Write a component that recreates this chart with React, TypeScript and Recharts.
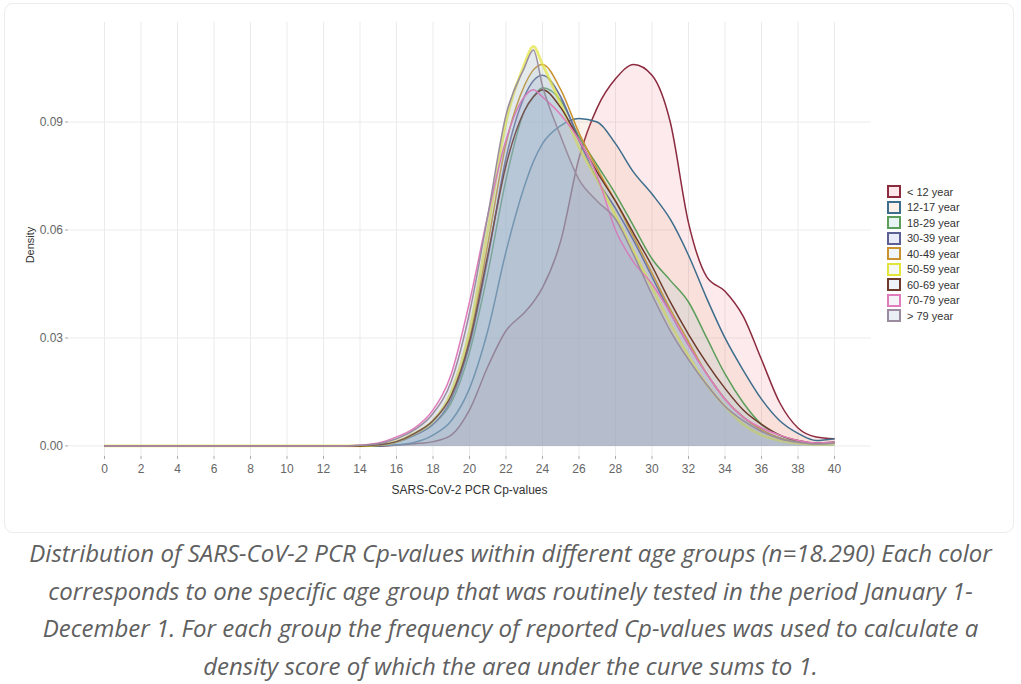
import { AreaChart, Area, XAxis, YAxis, CartesianGrid } from 'recharts';

// Cp-value positions (x) and the density of every age group at that Cp
const cpValues = [
  0, 1, 2, 3, 4, 5, 6, 7, 8, 9, 10, 11, 12, 13, 14, 15, 16, 17, 18, 19, 20,
  21, 22, 23, 23.5, 24, 25, 26, 27, 28, 29, 30, 31, 32, 33, 34, 35, 36, 37, 38, 39, 40,
];

const under12 = [
  0, 0, 0, 0, 0, 0, 0, 0, 0, 0, 0, 0, 0, 0, 0, 0,
  0.0002, 0.0006, 0.0012, 0.003, 0.01, 0.022, 0.032, 0.037, 0.04, 0.044, 0.057, 0.08, 0.094, 0.102,
  0.106, 0.103, 0.09, 0.062, 0.047, 0.043, 0.036, 0.024, 0.012, 0.005, 0.0025, 0.002,
];
const age12to17 = [
  0, 0, 0, 0, 0, 0, 0, 0, 0, 0, 0, 0, 0, 0, 0, 0,
  0.0003, 0.001, 0.003, 0.007, 0.016, 0.032, 0.054, 0.072, 0.079, 0.084, 0.089, 0.091, 0.09, 0.084,
  0.076, 0.07, 0.063, 0.053, 0.041, 0.03, 0.021, 0.013, 0.007, 0.0035, 0.0015, 0.002,
];
const age18to29 = [
  0, 0, 0, 0, 0, 0, 0, 0, 0, 0, 0, 0, 0, 0, 0,
  0.0002, 0.001, 0.003, 0.006, 0.012, 0.026, 0.048, 0.074, 0.093, 0.097, 0.0995, 0.096, 0.086, 0.078,
  0.07, 0.061, 0.052, 0.046, 0.04, 0.03, 0.02, 0.012, 0.006, 0.003, 0.0012, 0.0006, 0.0008,
];
const age30to39 = [
  0, 0, 0, 0, 0, 0, 0, 0, 0, 0, 0, 0, 0, 0, 0,
  0.0002, 0.001, 0.003, 0.006, 0.013, 0.028, 0.052, 0.08, 0.097, 0.1015, 0.103, 0.097, 0.085, 0.074,
  0.066, 0.057, 0.047, 0.037, 0.028, 0.02, 0.013, 0.008, 0.0045, 0.0022, 0.001, 0.0005, 0.001,
];
const age40to49 = [
  0, 0, 0, 0, 0, 0, 0, 0, 0, 0, 0, 0, 0, 0, 0,
  0.0003, 0.0012, 0.0035, 0.007, 0.014, 0.03, 0.056, 0.084, 0.1, 0.1045, 0.106, 0.099, 0.087, 0.077,
  0.068, 0.058, 0.048, 0.038, 0.029, 0.02, 0.013, 0.008, 0.0045, 0.0022, 0.001, 0.0005, 0.0008,
];
const age50to59 = [
  0, 0, 0, 0, 0, 0, 0, 0, 0, 0, 0, 0, 0, 0, 0,
  0.0003, 0.0012, 0.0035, 0.007, 0.015, 0.032, 0.06, 0.09, 0.106, 0.111, 0.106, 0.095, 0.083, 0.074,
  0.064, 0.054, 0.044, 0.034, 0.025, 0.017, 0.011, 0.006, 0.003, 0.0015, 0.0007, 0.0004, 0.0005,
];
const age60to69 = [
  0, 0, 0, 0, 0, 0, 0, 0, 0, 0, 0, 0, 0, 0, 0,
  0.0003, 0.0012, 0.0035, 0.007, 0.014, 0.029, 0.053, 0.078, 0.093, 0.097, 0.099, 0.094, 0.085, 0.076,
  0.068, 0.059, 0.05, 0.04, 0.031, 0.023, 0.016, 0.01, 0.006, 0.003, 0.0015, 0.0008, 0.001,
];
const age70to79 = [
  0, 0, 0, 0, 0, 0, 0, 0, 0, 0, 0, 0, 0, 0,
  0.0002, 0.0008, 0.0025, 0.005, 0.01, 0.02, 0.04, 0.064, 0.085, 0.097, 0.099, 0.097, 0.092, 0.085,
  0.075, 0.06, 0.051, 0.045, 0.037, 0.028, 0.02, 0.013, 0.008, 0.005, 0.003, 0.0015, 0.0008, 0.001,
];
const over79 = [
  0, 0, 0, 0, 0, 0, 0, 0, 0, 0, 0, 0, 0, 0,
  0.0002, 0.0006, 0.002, 0.0045, 0.009, 0.018, 0.037, 0.064, 0.092, 0.105, 0.11, 0.1, 0.086, 0.074,
  0.068, 0.063, 0.053, 0.042, 0.032, 0.024, 0.017, 0.011, 0.007, 0.004, 0.002, 0.001, 0.0005, 0.0008,
];

const ageGroups = [
  '< 12 year', '12-17 year', '18-29 year', '30-39 year', '40-49 year',
  '50-59 year', '60-69 year', '70-79 year', '> 79 year',
];
const groupSeries = [
  under12, age12to17, age18to29, age30to39, age40to49,
  age50to59, age60to69, age70to79, over79,
];

const xTicks = [0, 2, 4, 6, 8, 10, 12, 14, 16, 18, 20, 22, 24, 26, 28, 30, 32, 34, 36, 38, 40];
const yTicks = [0, 0.03, 0.06, 0.09];
const xDomain = [-2, 42];
const yDomain = [-0.0028, 0.1178];

const strokeColors = [
  '#8c2a3e', '#3d6d8c', '#5a9e5a', '#5b5f94', '#c9922e',
  '#e2e43a', '#6e3a2c', '#e07cbc', '#9a8c9e',
];
const fillColors = [
  '#f06878', '#eba578', '#6ab8b8', '#7882d2', '#96bed2',
  '#c3d7b4', '#8cb4c8', '#b4b4d2', '#7896be',
];

const data = cpValues.map((cp, i) => {
  const row: Record<string, number> = { cp };
  groupSeries.forEach((s, g) => {
    row['g' + g] = s[i];
  });
  return row;
});

const axisFont = '"Liberation Sans", Arial, sans-serif';

// major grid only, at the tick values (drawn under the areas)
const gridX = ({ offset }: any) =>
  xTicks.map((t) => offset.left + ((t - xDomain[0]) / (xDomain[1] - xDomain[0])) * offset.width);
const gridY = ({ offset }: any) =>
  yTicks.map((t) => offset.top + ((yDomain[1] - t) / (yDomain[1] - yDomain[0])) * offset.height);

function AgeLegend() {
  return (
    <div style={{ position: 'absolute', left: 887, top: 184, fontFamily: axisFont, fontSize: 11, color: '#333' }}>
      {ageGroups.map((name, g) => (
        <div key={name} style={{ display: 'flex', alignItems: 'center', height: 15.5 }}>
          <div
            style={{
              width: 14,
              height: 13,
              boxSizing: 'border-box',
              border: `2px solid ${strokeColors[g]}`,
              background: fillColors[g] + '28',
              marginRight: 6,
            }}
          />
          <span>{name}</span>
        </div>
      ))}
    </div>
  );
}

export default function App() {
  return (
    <div style={{ position: 'absolute', left: 0, top: 0, width: 1021, height: 684, background: '#fff', overflow: 'hidden' }}>
      <div
        style={{
          position: 'absolute',
          left: 4,
          top: 3,
          width: 1010,
          height: 530,
          boxSizing: 'border-box',
          border: '1px solid #ececec',
          borderRadius: 9,
        }}
      />
      <div style={{ position: 'absolute', left: 0, top: 0 }}>
        <AreaChart width={1021} height={540} data={data} margin={{ top: 22, right: 150, bottom: 44, left: 38 }}>
          <CartesianGrid
            stroke="#ebebeb"
            strokeWidth={1}
            fill="none"
            verticalCoordinatesGenerator={gridX}
            horizontalCoordinatesGenerator={gridY}
          />
          <XAxis
            dataKey="cp"
            type="number"
            domain={xDomain}
            ticks={xTicks}
            interval={0}
            allowDataOverflow
            height={40}
            axisLine={false}
            tickSize={3}
            tickMargin={5}
            tickLine={{ stroke: '#aaa' }}
            tick={{ fill: '#666', fontSize: 12, fontFamily: axisFont }}
            label={{
              value: 'SARS-CoV-2 PCR Cp-values',
              position: 'insideBottom',
              offset: 2,
              fill: '#333',
              fontSize: 12,
              fontFamily: axisFont,
            }}
          />
          <YAxis
            type="number"
            domain={yDomain}
            ticks={yTicks}
            allowDataOverflow
            width={30}
            axisLine={false}
            tickSize={3}
            tickMargin={2}
            tickLine={{ stroke: '#aaa' }}
            tick={{ fill: '#666', fontSize: 12, fontFamily: axisFont }}
            tickFormatter={(v: number) => v.toFixed(2)}
          />
          {groupSeries.map((_, g) => (
            <Area
              key={g}
              type="monotone"
              dataKey={'g' + g}
              stroke={strokeColors[g]}
              strokeWidth={g === 5 ? 2.8 : 1.5}
              strokeOpacity={g === 5 ? 0.7 : 1}
              fill={fillColors[g]}
              fillOpacity={0.14}
              dot={false}
              activeDot={false}
              isAnimationActive={false}
            />
          ))}
        </AreaChart>
      </div>
      <div
        style={{
          position: 'absolute',
          left: 30,
          top: 245,
          transform: 'translate(-50%, -50%) rotate(-90deg)',
          fontFamily: axisFont,
          fontSize: 11,
          color: '#333',
        }}
      >
        Density
      </div>
      <AgeLegend />
      <div
        style={{
          position: 'absolute',
          left: 0,
          top: 534,
          width: 1021,
          textAlign: 'center',
          fontFamily: '"Open Sans", sans-serif',
          fontStyle: 'italic',
          fontSize: 24,
          lineHeight: '37.5px',
          color: '#606060',
        }}
      >
        Distribution of SARS-CoV-2 PCR Cp-values within different age groups (n=18.290) Each color
        <br />
        corresponds to one specific age group that was routinely tested in the period January 1-
        <br />
        December 1. For each group the frequency of reported Cp-values was used to calculate a
        <br />
        density score of which the area under the curve sums to 1.
      </div>
    </div>
  );
}
